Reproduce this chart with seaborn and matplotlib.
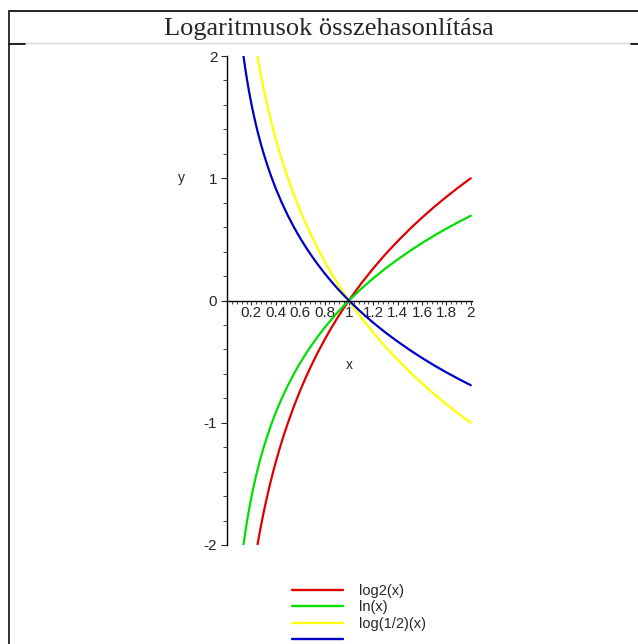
import numpy as np
import pandas as pd
import matplotlib
matplotlib.use('Agg')
import matplotlib.pyplot as plt
from matplotlib.lines import Line2D
from matplotlib.ticker import MultipleLocator
import seaborn as sns

# values
x_ln = [0.135, 0.14, 0.15, 0.16, 0.17, 0.18, 0.19, 0.2, 0.22, 0.24, 0.26, 0.28, 0.3, 0.33, 0.36, 0.4,
        0.45, 0.5, 0.55, 0.6, 0.65, 0.7, 0.75, 0.8, 0.85, 0.9, 0.95, 1.0,
        1.1, 1.2, 1.3, 1.4, 1.5, 1.6, 1.7, 1.8, 1.9, 2.0]
y_ln = [-2.000, -1.966, -1.897, -1.833, -1.772, -1.715, -1.661, -1.609, -1.514, -1.427, -1.347, -1.273, -1.204, -1.109, -1.022, -0.916,
        -0.799, -0.693, -0.598, -0.511, -0.431, -0.357, -0.288, -0.223, -0.163, -0.105, -0.051, 0.000,
        0.095, 0.182, 0.262, 0.336, 0.405, 0.470, 0.531, 0.588, 0.642, 0.693]
y_blue = [2.000, 1.966, 1.897, 1.833, 1.772, 1.715, 1.661, 1.609, 1.514, 1.427, 1.347, 1.273, 1.204, 1.109, 1.022, 0.916,
          0.799, 0.693, 0.598, 0.511, 0.431, 0.357, 0.288, 0.223, 0.163, 0.105, 0.051, 0.000,
          -0.095, -0.182, -0.262, -0.336, -0.405, -0.470, -0.531, -0.588, -0.642, -0.693]
x_log2 = [0.25, 0.26, 0.27, 0.28, 0.3, 0.32, 0.34, 0.36, 0.38, 0.4, 0.43, 0.46, 0.5, 0.55, 0.6, 0.65,
          0.7, 0.75, 0.8, 0.85, 0.9, 0.95, 1.0, 1.1, 1.2, 1.3, 1.4, 1.5, 1.6, 1.7, 1.8, 1.9, 2.0]
y_log2 = [-2.000, -1.943, -1.889, -1.837, -1.737, -1.644, -1.556, -1.474, -1.396, -1.322, -1.218, -1.120, -1.000, -0.862, -0.737, -0.621,
          -0.515, -0.415, -0.322, -0.234, -0.152, -0.074, 0.000, 0.138, 0.263, 0.379, 0.485, 0.585, 0.678, 0.766, 0.848, 0.926, 1.000]
y_loghalf = [2.000, 1.943, 1.889, 1.837, 1.737, 1.644, 1.556, 1.474, 1.396, 1.322, 1.218, 1.120, 1.000, 0.862, 0.737, 0.621,
             0.515, 0.415, 0.322, 0.234, 0.152, 0.074, 0.000, -0.138, -0.263, -0.379, -0.485, -0.585, -0.678, -0.766, -0.848, -0.926, -1.000]

names = ['log2(x)', 'ln(x)', 'log(1/2)(x)', '']
colors = ['#e00000', '#00e000', '#ffff00', '#0000c8']
x_ticks = [0.2, 0.4, 0.6, 0.8, 1, 1.2, 1.4, 1.6, 1.8, 2]
x_ticklabels = ['0.2', '0.4', '0.6', '0.8', '1', '1.2', '1.4', '1.6', '1.8', '2']
y_ticks = [-2, -1, 0, 1, 2]
title = 'Logaritmusok összehasonlítása'

parts = []
for name, xs, ys in [(names[0], x_log2, y_log2), (names[1], x_ln, y_ln),
                     (names[2], x_log2, y_loghalf), ('blue', x_ln, y_blue)]:
    parts.append(pd.DataFrame({'x': xs, 'y': ys, 'func': name}))
df = pd.concat(parts, ignore_index=True)
order = [names[0], names[1], names[2], 'blue']

sns.set_style('white')
plt.rcParams['font.family'] = ['Liberation Sans', 'DejaVu Sans']
plt.rcParams['axes.unicode_minus'] = False

W, H = 638, 644
fig = plt.figure(figsize=(W / 100, H / 100), dpi=100)
ax = fig.add_axes([227 / W, 1 - 545 / H, 245 / W, 489 / H])
ax.set_facecolor('none')

sns.lineplot(data=df, x='x', y='y', hue='func', hue_order=order,
             palette=dict(zip(order, colors)), estimator=None, sort=True,
             legend=False, lw=1.6, ax=ax)
for ln in ax.get_lines():
    ln.set_solid_joinstyle('round')

ax.set_xlim(0, 2.01)
ax.set_ylim(-2, 2)
for s in ['top', 'right']:
    ax.spines[s].set_visible(False)
ax.spines['left'].set_position(('data', 0))
ax.spines['bottom'].set_position(('data', 0))
for s in ['left', 'bottom']:
    ax.spines[s].set_color('black')
    ax.spines[s].set_linewidth(1.0)

ax.set_xticks(x_ticks)
ax.set_xticklabels(x_ticklabels)
ax.xaxis.set_minor_locator(MultipleLocator(0.04))
ax.set_yticks(y_ticks)
ax.yaxis.set_minor_locator(MultipleLocator(0.2))
ax.tick_params(axis='x', which='major', direction='out', length=3, width=0.8,
               labelsize=11, pad=1, bottom=True)
ax.tick_params(axis='x', which='minor', direction='out', length=2, width=0.6, bottom=True)
ax.tick_params(axis='y', which='major', direction='out', length=4, width=0.8,
               labelsize=11, pad=3, left=True)
ax.tick_params(axis='y', which='minor', direction='out', length=3, width=0.6, left=True)
ax.set_xlabel('x', fontsize=10)
ax.set_ylabel('y', fontsize=10, rotation=0)
ax.xaxis.set_label_coords(0.5, 0.383)
ax.yaxis.set_label_coords(-0.188, 0.736)

# frame and title band
def fx(p):
    return p / W
def fy(p):
    return 1 - p / H
fig.add_artist(Line2D([fx(9), fx(638)], [fy(11), fy(11)], color='black', lw=1.2))
fig.add_artist(Line2D([fx(9), fx(9)], [fy(11), fy(644)], color='#333333', lw=1.4))
fig.add_artist(Line2D([fx(9), fx(638)], [fy(43), fy(43)], color='#d8d8d8', lw=1.0))
fig.add_artist(Line2D([fx(9), fx(25)], [fy(44), fy(44)], color='black', lw=1.2))
fig.add_artist(Line2D([fx(631), fx(638)], [fy(44), fy(44)], color='black', lw=1.2))
fig.text(fx(329), fy(29), title, ha='center', va='center', fontsize=19,
         family=['Liberation Serif', 'DejaVu Serif'])

handles = [Line2D([], [], color=c, lw=1.7) for c in colors]
fig.legend(handles, names, loc='upper left', bbox_to_anchor=(fx(292), fy(584)),
           frameon=False, fontsize=10.5, handlelength=3.5, handletextpad=1.1,
           labelspacing=0.17, borderpad=0, borderaxespad=0)

fig.savefig('out.png', dpi=100)
